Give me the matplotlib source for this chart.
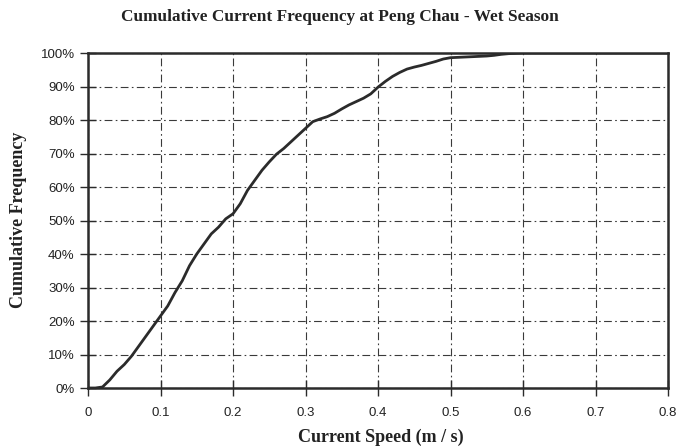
#Importing the libraries
import matplotlib
matplotlib.use("Agg")
import matplotlib.pyplot as plt
from matplotlib.ticker import FuncFormatter

#Current speed (m/s)
speed = [0.00, 0.01, 0.02, 0.03, 0.04, 0.05, 0.06, 0.07, 0.08, 0.09,
         0.10, 0.11, 0.12, 0.13, 0.14, 0.15, 0.16, 0.17, 0.18, 0.19,
         0.20, 0.21, 0.22, 0.23, 0.24, 0.25, 0.26, 0.27, 0.28, 0.29,
         0.30, 0.31, 0.32, 0.33, 0.34, 0.35, 0.36, 0.37, 0.38, 0.39,
         0.40, 0.41, 0.42, 0.43, 0.44, 0.45, 0.46, 0.47, 0.48, 0.49,
         0.50, 0.51, 0.52, 0.53, 0.54, 0.55, 0.56, 0.57, 0.58, 0.59,
         0.60, 0.70, 0.80]

#Cumulative frequency (%) at each speed
cum_freq = [0, 0, 0.3, 2.4, 5.0, 7.0, 9.5, 12.5, 15.5, 18.5,
            21.5, 24.5, 28.5, 32.0, 36.5, 40.0, 43.0, 46.0, 48.0, 50.5,
            52.0, 55.0, 59.0, 62.0, 65.0, 67.5, 69.8, 71.5, 73.5, 75.5,
            77.5, 79.5, 80.3, 81.0, 82.0, 83.3, 84.5, 85.5, 86.5, 87.8,
            89.8, 91.5, 93.0, 94.2, 95.2, 95.8, 96.3, 96.9, 97.5, 98.2,
            98.6, 98.7, 98.8, 98.9, 99.0, 99.1, 99.3, 99.6, 99.8, 99.9,
            100, 100, 100]

x_ticks = [0, 0.1, 0.2, 0.3, 0.4, 0.5, 0.6, 0.7, 0.8]
x_tick_labels = ["0", "0.1", "0.2", "0.3", "0.4", "0.5", "0.6", "0.7", "0.8"]
y_ticks = [0, 10, 20, 30, 40, 50, 60, 70, 80, 90, 100]

title = "Cumulative Current Frequency at Peng Chau - Wet Season"
x_label = "Current Speed (m / s)"
y_label = "Cumulative Frequency"

ink = "#2b2b2b"
serif = ["Liberation Serif", "DejaVu Serif"]

fig = plt.figure(figsize=(6.81, 4.48), dpi=100)
ax = fig.add_axes([88 / 681, 1 - 388 / 448, 580 / 681, 335 / 448])

ax.plot(speed, cum_freq, color=ink, linewidth=2.0, zorder=3)

ax.set_xlim(0, 0.8)
ax.set_ylim(0, 100)
ax.set_xticks(x_ticks)
ax.set_xticklabels(x_tick_labels)
ax.set_yticks(y_ticks)
ax.yaxis.set_major_formatter(FuncFormatter(lambda v, p: f"{v:.0f}%"))

#Dash-dot grid like the scanned original
ax.grid(True, color="#3a3a3a", linewidth=0.8, linestyle=(0, (7, 3, 1.5, 3)))
ax.set_axisbelow(True)

for side in ax.spines.values():
    side.set_color(ink)
    side.set_linewidth(1.8)

ax.tick_params(direction="inout", length=11, width=1.0, color=ink,
               labelsize=9.5, labelcolor="#222222", pad=4)
ax.tick_params(axis="x", pad=8)
for lab in ax.get_xticklabels() + ax.get_yticklabels():
    lab.set_family("Liberation Sans")

fig.text(340 / 681, 1 - 17 / 448, title, ha="center", va="center",
         fontsize=12.4, fontweight="bold", family=serif, color="#222222")
fig.text(381 / 681, 1 - 437 / 448, x_label, ha="center", va="center",
         fontsize=13, fontweight="bold", family=serif, color="#222222")
fig.text(19 / 681, 1 - 220 / 448, y_label, ha="center", va="center",
         rotation=90, fontsize=13, fontweight="bold", family=serif,
         color="#222222")

fig.savefig("out.png", dpi=100, facecolor="white")
